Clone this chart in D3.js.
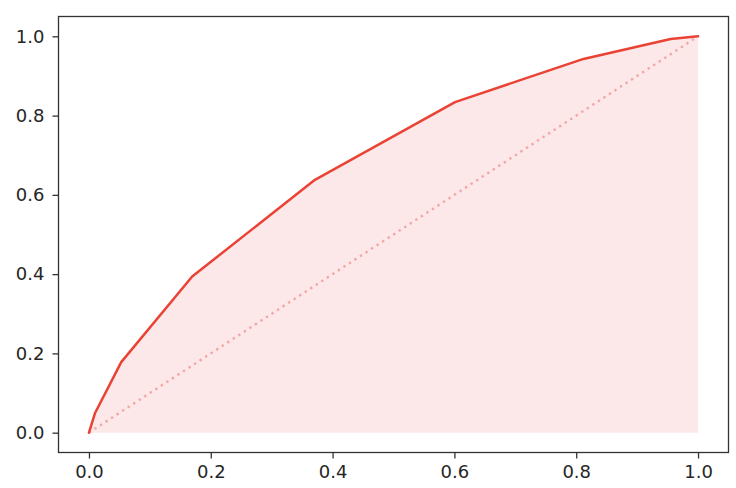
<!DOCTYPE html>
<html>
<head>
<meta charset="utf-8">
<script src="https://cdn.jsdelivr.net/npm/d3@7"></script>
<style>
  html, body { margin: 0; padding: 0; background: #fff; }
  svg { display: block; }
  .tick text { font-family: "DejaVu Sans", sans-serif; font-size: 18px; fill: #262626; }
</style>
</head>
<body>
<svg id="chart" width="736" height="488"></svg>
<script>
const fprValues = [0, 0.0098, 0.053, 0.1695, 0.371, 0.601, 0.812, 0.955, 1.0];
const tprValues = [0, 0.049, 0.178, 0.394, 0.638, 0.834, 0.943, 0.993, 1.0];
const diagX = [0, 1];
const diagY = [0, 1];
const xTicks = [0.0, 0.2, 0.4, 0.6, 0.8, 1.0];
const yTicks = [0.0, 0.2, 0.4, 0.6, 0.8, 1.0];

const svg = d3.select("#chart");
const mLeft = 58.5, mRight = 728.5, mTop = 16.5, mBottom = 452.5;

const x = d3.scaleLinear().domain([-0.05, 1.05]).range([mLeft, mRight]);
const y = d3.scaleLinear().domain([-0.05, 1.05]).range([mBottom, mTop]);

const pts = fprValues.map((v, i) => ({ x: v, y: tprValues[i] }));

svg.append("path")
  .datum(pts)
  .attr("fill", "#fce8e8")
  .attr("d", d3.area().x(d => x(d.x)).y0(y(0)).y1(d => y(d.y)));

svg.append("path")
  .datum(diagX.map((v, i) => ({ x: v, y: diagY[i] })))
  .attr("fill", "none")
  .attr("stroke", "#f4a6a6")
  .attr("stroke-width", 2.4)
  .attr("stroke-dasharray", "2.4,4.2")
  .attr("d", d3.line().x(d => x(d.x)).y(d => y(d.y)));

svg.append("path")
  .datum(pts)
  .attr("fill", "none")
  .attr("stroke", "#ea4335")
  .attr("stroke-width", 2.5)
  .attr("stroke-linejoin", "round")
  .attr("stroke-linecap", "round")
  .attr("d", d3.line().x(d => x(d.x)).y(d => y(d.y)));

const xAxis = svg.append("g")
  .attr("transform", `translate(0,${mBottom})`)
  .call(d3.axisBottom(x).tickValues(xTicks).tickFormat(d3.format(".1f")).tickSizeInner(6).tickSizeOuter(0).tickPadding(7));
const yAxis = svg.append("g")
  .attr("transform", `translate(${mLeft},0)`)
  .call(d3.axisLeft(y).tickValues(yTicks).tickFormat(d3.format(".1f")).tickSizeInner(6).tickSizeOuter(0).tickPadding(8));

[xAxis, yAxis].forEach(g => {
  g.select(".domain").remove();
  g.selectAll(".tick line").attr("stroke", "#333").attr("stroke-width", 1.3);
});

svg.append("rect")
  .attr("x", mLeft).attr("y", mTop)
  .attr("width", mRight - mLeft).attr("height", mBottom - mTop)
  .attr("fill", "none").attr("stroke", "#333").attr("stroke-width", 1.3);
</script>
</body>
</html>
